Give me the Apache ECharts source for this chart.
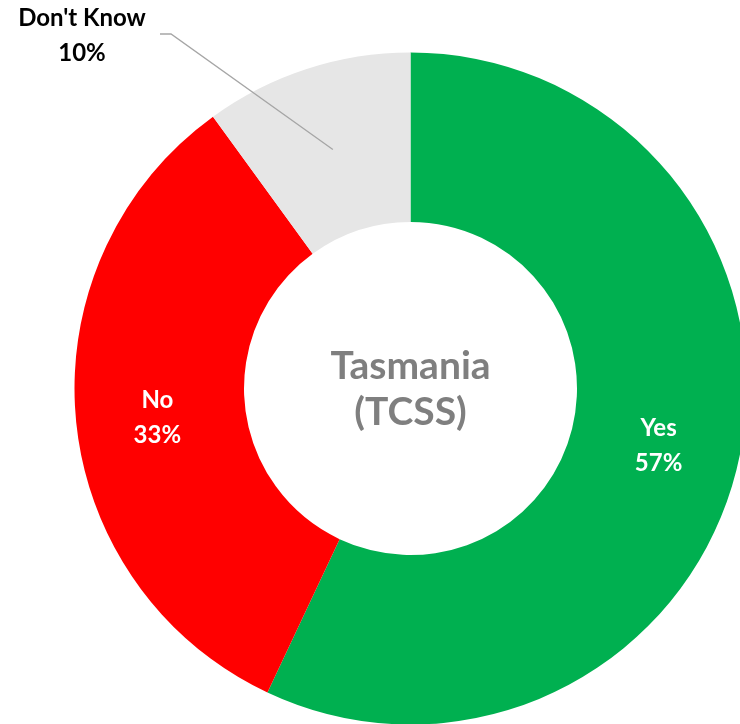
<!DOCTYPE html>
<html>
<head>
<meta charset="utf-8">
<title>Tasmania (TCSS)</title>
<script src="https://cdn.jsdelivr.net/npm/echarts@6/dist/echarts.min.js"></script>
<style>
  html, body { margin: 0; padding: 0; background: #ffffff; }
  #chart { width: 740px; height: 724px; }
</style>
</head>
<body>
<div id="chart"></div>
<script>
// Survey responses for Tasmania (TCSS)
const categories = ['Yes', 'No', "Don't Know"];
const shares = [57, 33, 10];
const sliceColors = ['#00B050', '#FF0000', '#E6E6E6'];
const centreTitle = 'Tasmania\n(TCSS)';

// Geometry of the ring (pixels)
const CENTER = [410.5, 388.5];
const R_INNER = 166.5;
const R_OUTER = 336;
const FONT = 'Lato, "Open Sans", "Noto Sans", sans-serif';

// Anchor of the callout for the small slice
const CALLOUT_TEXT = [82, 36];
const CALLOUT_ELBOW = [[171, 34], [160, 34]];

const chart = echarts.init(document.getElementById('chart'), null, { renderer: 'canvas' });

// Mid-point of a slice (middle radius, middle angle), measured clockwise from 12 o'clock
function sliceMidPoint(index) {
  const total = shares.reduce((a, b) => a + b, 0);
  let before = 0;
  for (let i = 0; i < index; i++) before += shares[i];
  const frac = (before + shares[index] / 2) / total;
  const ang = frac * 2 * Math.PI;
  const r = (R_INNER + R_OUTER) / 2;
  return [CENTER[0] + r * Math.sin(ang), CENTER[1] - r * Math.cos(ang)];
}

const data = categories.map((name, i) => {
  const item = {
    name: name,
    value: shares[i],
    itemStyle: { color: sliceColors[i] }
  };
  if (i === 2) {
    item.label = { position: 'outside', color: '#000000' };
    item.labelLine = { show: false };
  }
  return item;
});

const option = {
  backgroundColor: '#ffffff',
  animation: false,
  graphic: [{
    type: 'text',
    z: 10,
    style: {
      text: centreTitle,
      x: CENTER[0],
      y: CENTER[1] + 1,
      align: 'center',
      verticalAlign: 'middle',
      fill: '#7F7F7F',
      font: 'bold 39px ' + FONT,
      lineHeight: 46
    }
  }, {
    // leader line from the centre of the "Don't Know" slice to its label
    type: 'polyline',
    z: 10,
    silent: true,
    shape: { points: [sliceMidPoint(2)].concat(CALLOUT_ELBOW) },
    style: { stroke: '#A6A6A6', lineWidth: 1.3, fill: null }
  }],
  series: [{
    type: 'pie',
    center: CENTER,
    radius: [R_INNER, R_OUTER],
    startAngle: 90,
    clockwise: true,
    avoidLabelOverlap: false,
    itemStyle: { borderWidth: 0 },
    label: {
      show: true,
      position: 'inside',
      formatter: '{b}\n{c}%',
      color: '#ffffff',
      fontFamily: FONT,
      fontWeight: 'bold',
      fontSize: 24,
      lineHeight: 35
    },
    labelLine: { show: false },
    emphasis: { disabled: true },
    labelLayout: function (params) {
      if (params.dataIndex === 1) return { dy: 5 };
      if (params.dataIndex !== 2) return { dy: 2 };
      return {
        x: CALLOUT_TEXT[0],
        y: CALLOUT_TEXT[1],
        align: 'center',
        verticalAlign: 'middle'
      };
    },
    data: data
  }]
};

chart.setOption(option);
</script>
</body>
</html>
